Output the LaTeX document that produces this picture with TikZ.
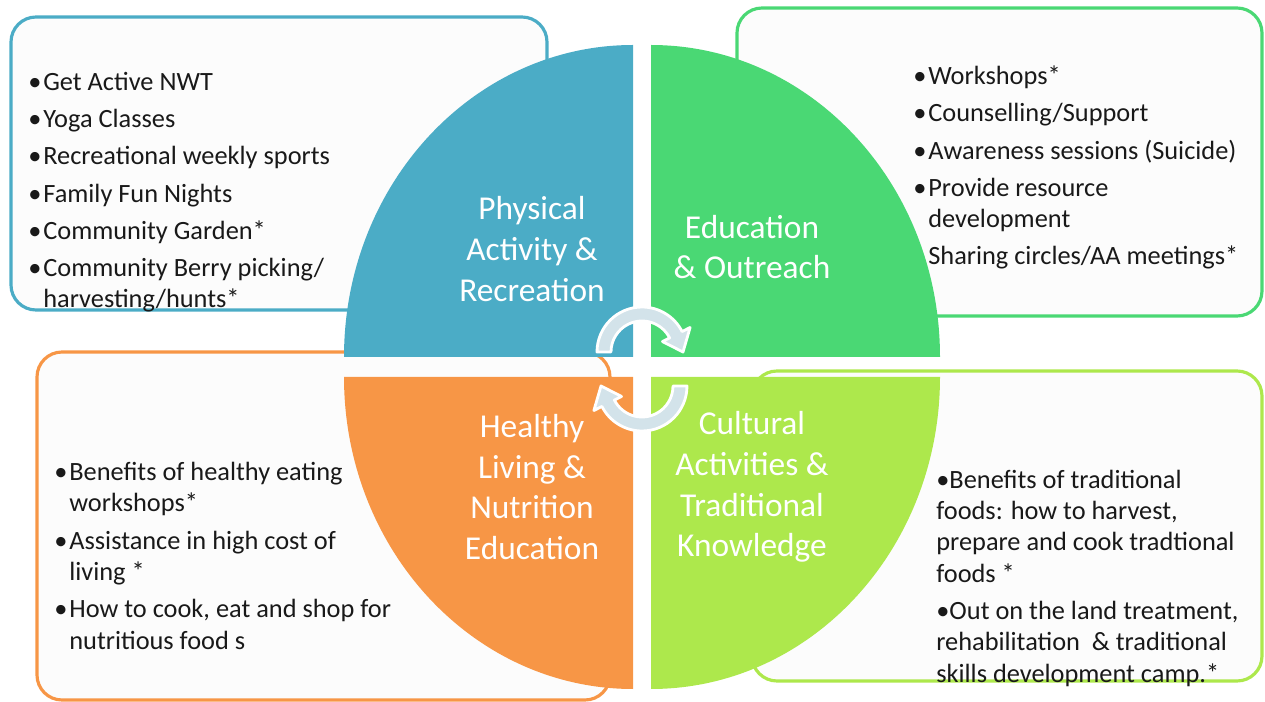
\documentclass[tikz,border=0pt]{standalone}
\usepackage{fontspec}
\setmainfont{Carlito}
\usetikzlibrary{backgrounds}
\pgfdeclarelayer{edgelayer}
\pgfdeclarelayer{nodelayer}
\pgfsetlayers{edgelayer,main,nodelayer}
\definecolor{aquablue}{HTML}{4BACC6}
\definecolor{mintgreen}{HTML}{4AD874}
\definecolor{peach}{HTML}{F79646}
\definecolor{leafgreen}{HTML}{ADE84C}
\definecolor{swirlfill}{HTML}{D3E3EA}
\definecolor{cardfill}{HTML}{FCFCFC}
\tikzset{font=\fontsize{15}{17.8}\selectfont}
\tikzstyle{card}=[line width=1.8pt, fill=cardfill, rounded corners=0.5cm]
\tikzstyle{title}=[align=center, text=white, inner sep=0pt, font=\fontsize{19}{23.2}\selectfont]
\tikzstyle{list}=[align=left, anchor=base west, inner sep=0pt, text=black!90]
\tikzstyle{swirl}=[fill=swirlfill, draw=white, line width=1.6pt, line join=round]
\newcommand{\bu}{\makebox[3mm][l]{\textbullet}}
\newcommand{\swirlarrow}[2]{%
  \begin{scope}[shift={#1}, rotate=#2]
    \filldraw[swirl] (180:45) arc[start angle=180, end angle=333, radius=45]
      -- (333:54) -- (0:41) -- (333:23) -- (333:31)
      arc[start angle=333, end angle=180, radius=31] -- cycle;
  \end{scope}}

\begin{document}
\begin{tikzpicture}[x=0.02cm, y=-0.02cm]
	\useasboundingbox (0,0) rectangle (1265,702);
	\begin{pgfonlayer}{edgelayer}
		% boxes behind the circle
		\draw[card, draw=aquablue] (11,17) rectangle (547,310);
		\draw[card, draw=mintgreen] (737,8) rectangle (1262,316);
		\draw[card, draw=peach] (37,352) rectangle (610,700);
		\draw[card, draw=leafgreen] (752,371) rectangle (1262,681);
	\end{pgfonlayer}
	% quarters
	\fill[aquablue] (633,357) -- (344,357) arc[start angle=180, end angle=270, x radius=289, y radius=312] -- cycle;
	\fill[mintgreen] (651,357) -- (651,45) arc[start angle=270, end angle=360, x radius=289, y radius=312] -- cycle;
	\fill[leafgreen] (651,377) -- (940,377) arc[start angle=0, end angle=90, x radius=289, y radius=312] -- cycle;
	\fill[peach] (633,377) -- (633,689) arc[start angle=90, end angle=180, x radius=289, y radius=312] -- cycle;
	% arrows in the middle
	\swirlarrow{(642,352)}{0}
	\swirlarrow{(642,386)}{180}
	\begin{pgfonlayer}{nodelayer}
		\node[title] (pa) at (532,249) {Physical\\Activity \&\\Recreation};
		\node[title] (eo) at (752,247) {Education\\\& Outreach};
		\node[title] (hl) at (532,487) {Healthy\\Living \&\\Nutrition\\Education};
		\node[title] (ca) at (752,487) {Cultural\\Activities \&\\Traditional\\Knowledge};
		% lists sit on the baseline of their last line
		\node[list] (pa-list) at (28,308) {\bu Get Active NWT\\[3.4pt]
			\bu Yoga Classes\\[3.4pt]
			\bu Recreational weekly sports\\[3.4pt]
			\bu Family Fun Nights\\[3.4pt]
			\bu Community Garden*\\[3.4pt]
			\bu Community Berry picking/\\
			\hspace*{3mm}harvesting/hunts*};
		\node[list] (eo-list) at (913,265) {\bu Workshops*\\[3.4pt]
			\bu Counselling/Support\\[3.4pt]
			\bu Awareness sessions (Suicide)\\[3.4pt]
			\bu Provide resource\\
			\hspace*{3mm}development\\[3.4pt]
			\hspace*{3mm}Sharing circles/AA meetings*};
		\node[list] (hl-list) at (54,649) {\bu Benefits of healthy eating\\
			\hspace*{3mm}workshops*\\[3.4pt]
			\bu Assistance in high cost of\\
			\hspace*{3mm}living *\\[3.4pt]
			\bu How to cook, eat and shop for\\
			\hspace*{3mm}nutritious food s};
		\node[list] (ca-list) at (936,682) {\textbullet Benefits of traditional\\
			foods: how to harvest,\\
			prepare and cook tradtional\\
			foods *\\[3.4pt]
			\textbullet Out on the land treatment,\\
			rehabilitation\ \ \& traditional\\
			skills development camp.*};
	\end{pgfonlayer}
\end{tikzpicture}
\end{document}
